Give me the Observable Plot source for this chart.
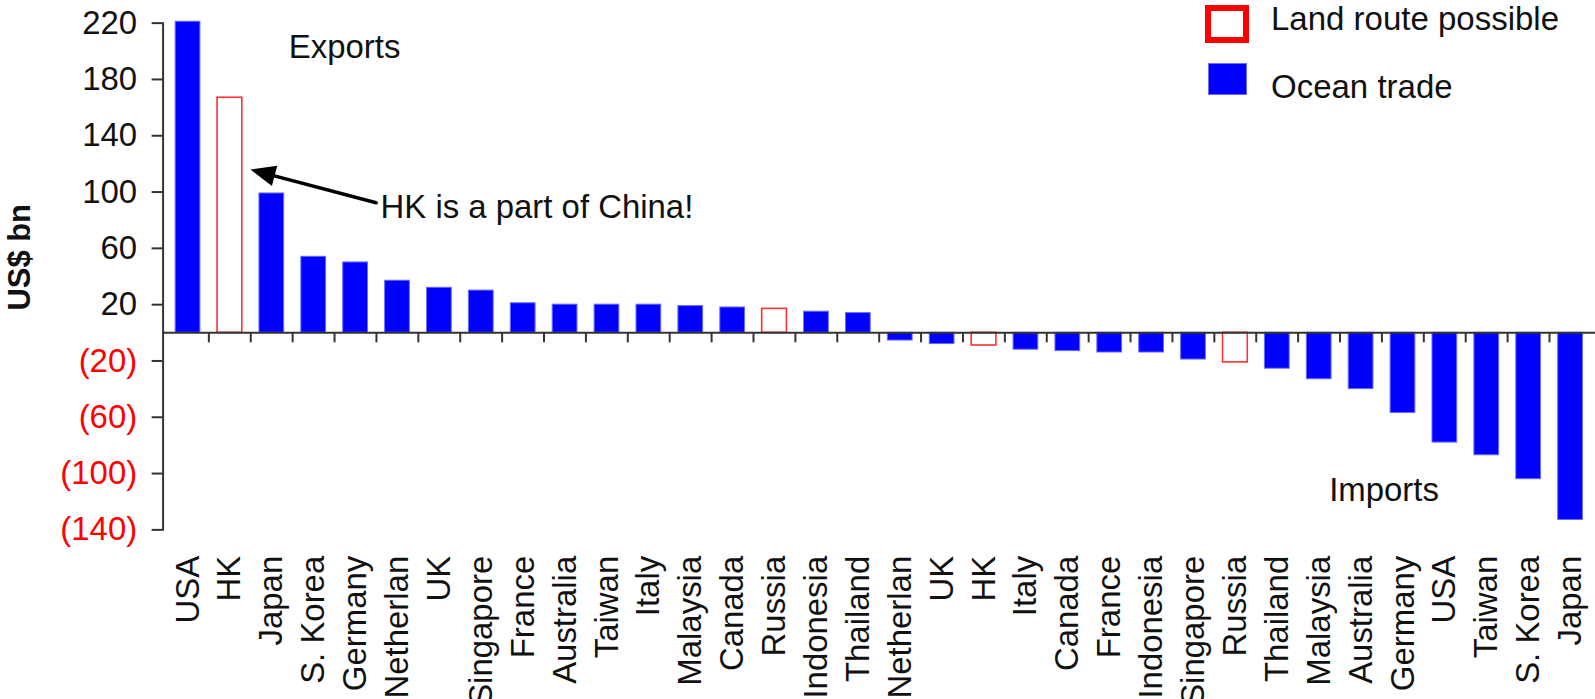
<!DOCTYPE html>
<html><head><meta charset="utf-8">
<script src="https://cdn.jsdelivr.net/npm/d3@7"></script>
<script src="https://cdn.jsdelivr.net/npm/@observablehq/plot@0.6"></script>
<style>
html,body{margin:0;padding:0;background:#fff;overflow:hidden;}
#wrap{position:relative;width:1595px;height:699px;overflow:hidden;}
#wrap svg{display:block;}
.lg{position:absolute;font-family:"Liberation Sans",Arial,sans-serif;font-size:33px;line-height:33px;color:#111;white-space:nowrap;}
.box-land{position:absolute;left:1205px;top:5px;width:44px;height:38px;box-sizing:border-box;border:6.5px solid #ff0000;background:#fff;}
.box-ocean{position:absolute;left:1208px;top:63px;width:39px;height:32px;box-sizing:border-box;border:1px solid #6b6bff;background:#0000ff;}
</style></head><body>
<div id="wrap">
  <div class="box-land"></div><div class="lg" style="left:1271px;top:2px;">Land route possible</div>
  <div class="box-ocean"></div><div class="lg" style="left:1271px;top:70px;">Ocean trade</div>
</div>
<script>
const categories = ["USA","HK","Japan","S. Korea","Germany","Netherlan","UK","Singapore","France","Australia","Taiwan","Italy","Malaysia","Canada","Russia","Indonesia","Thailand",
                    "Netherlan","UK","HK","Italy","Canada","France","Indonesia","Singapore","Russia","Thailand","Malaysia","Australia","Germany","USA","Taiwan","S. Korea","Japan"];
const values = [221,167,99,54,50,37,32,30,21,20,20,20,19,18,17,15,14,
                -5.5,-8,-9,-12,-13,-14,-14,-19,-21,-25.5,-33,-40,-57,-78,-87,-104,-133];
const routes = ["Ocean","Land","Ocean","Ocean","Ocean","Ocean","Ocean","Ocean","Ocean","Ocean","Ocean","Ocean","Ocean","Ocean","Land","Ocean","Ocean",
                "Ocean","Ocean","Land","Ocean","Ocean","Ocean","Ocean","Ocean","Land","Ocean","Ocean","Ocean","Ocean","Ocean","Ocean","Ocean","Ocean"];
const yTicks = [220,180,140,100,60,20,-20,-60,-100,-140];
const exportsNote = [{text:"Exports", key:"3", value:202.5}];
const hkNote = [{text:"HK is a part of China!", key:"5", value:89}];
const importsNote = [{text:"Imports", key:"27", value:-112}];
const arrowData = [{fromKey:"4", fromValue:92.4, toKey:"1", toValue:116}];

const keys = categories.map((_, i) => String(i));
const rows = categories.map((c, i) => ({key: keys[i], label: c, value: values[i], route: routes[i]}));

const W = 1599, H = 699, ML = 163, MR = 0, MT = 22.7, MB = 168.3;
const step = (W - ML - MR) / keys.length;
const font = "Liberation Sans, Arial, sans-serif";
const FS = 33;

const headSymbol = {draw(ctx){ ctx.moveTo(0,0); ctx.lineTo(-25,-10.5); ctx.lineTo(-25,10.5); ctx.closePath(); }};

const noteOpts = {x: "key", y: "value", text: "text", textAnchor: "start", fontSize: FS, fill: "#111"};

const chart = Plot.plot({
  width: W, height: H,
  marginLeft: ML, marginRight: MR, marginTop: MT, marginBottom: MB,
  style: {fontFamily: font, fontSize: FS + "px", background: "white", overflow: "visible"},
  x: {type: "band", domain: keys, padding: 0, axis: null},
  y: {domain: [-140, 220], axis: null},
  marks: [
    Plot.barY(rows.filter(d => d.route === "Ocean"), {x: "key", y: "value", fill: "#0000ff", stroke: "#6b6bff", strokeWidth: 1, insetLeft: 8.6, insetRight: 8.6}),
    Plot.barY(rows.filter(d => d.route === "Land"), {x: "key", y: "value", fill: "white", stroke: "#ff3030", strokeWidth: 1.6, insetLeft: 8.6, insetRight: 8.6}),
    Plot.ruleY([0], {stroke: "#333", strokeWidth: 2}),
    Plot.ruleX(keys.slice(1), {x: d => d, y1: 0, y2: -7.1, dx: -step / 2, stroke: "#333", strokeWidth: 2}),
    Plot.frame({anchor: "left", stroke: "#333", strokeWidth: 2}),
    Plot.axisY(yTicks.filter(v => v > 0), {tickSize: 11, tickPadding: 15, fontSize: FS, fill: "#111", stroke: "#333", strokeWidth: 2, tickFormat: d => String(d), label: null}),
    Plot.axisY(yTicks.filter(v => v < 0), {tickSize: 11, tickPadding: 15, fontSize: FS, fill: "#ff0000", stroke: "#333", strokeWidth: 2, tickFormat: d => `(${-d})`, label: null}),
    Plot.axisX({tickRotate: -90, tickSize: 0, tickPadding: 26, fontSize: FS, fill: "#111", tickFormat: k => categories[+k], label: null}),
    Plot.text(["US$ bn"], {frameAnchor: "left", dx: -143, dy: -19.3, rotate: -90, fontSize: 31, fontWeight: "bold", fill: "#111", textAnchor: "middle"}),
    Plot.text(exportsNote, {...noteOpts, dx: -25}),
    Plot.text(hkNote, {...noteOpts, dx: -17}),
    Plot.text(importsNote, {...noteOpts, dx: 10}),
    Plot.arrow(arrowData, {x1: "fromKey", y1: "fromValue", x2: "toKey", y2: "toValue", dx: 20.6, headLength: 0, insetEnd: 14, stroke: "#000", strokeWidth: 3.5}),
    Plot.dot(arrowData, {x: "toKey", y: "toValue", dx: 20.6, symbol: headSymbol, rotate: -165.2, fill: "#000", stroke: "none"})
  ]
});
document.getElementById("wrap").appendChild(chart);
</script>
</body></html>
